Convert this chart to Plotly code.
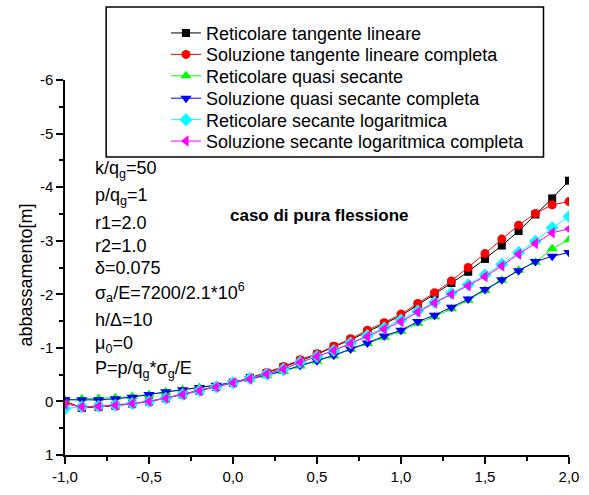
import plotly.graph_objects as go

x = [-1.0, -0.9, -0.8, -0.7, -0.6, -0.5, -0.4, -0.3, -0.2, -0.1, 0.0,
     0.1, 0.2, 0.3, 0.4, 0.5, 0.6, 0.7, 0.8, 0.9, 1.0,
     1.1, 1.2, 1.3, 1.4, 1.5, 1.6, 1.7, 1.8, 1.9, 2.0]

ret_tang = [0.0, 0.12, 0.1, 0.08, 0.04, 0.0, -0.06, -0.13, -0.2, -0.27, -0.35,
            -0.44, -0.53, -0.64, -0.76, -0.88, -1.02, -1.15, -1.3, -1.45, -1.6,
            -1.8, -2.0, -2.21, -2.42, -2.66, -2.91, -3.18, -3.49, -3.79, -4.12]
sol_tang = [0.0, 0.12, 0.1, 0.08, 0.04, 0.0, -0.06, -0.13, -0.2, -0.27, -0.35,
            -0.44, -0.54, -0.65, -0.78, -0.89, -1.03, -1.17, -1.33, -1.47, -1.63,
            -1.83, -2.03, -2.25, -2.5, -2.76, -3.03, -3.29, -3.51, -3.67, -3.73]
ret_quasi = [-0.03, -0.05, -0.06, -0.07, -0.09, -0.13, -0.18, -0.22, -0.26, -0.3, -0.35,
             -0.41, -0.48, -0.56, -0.66, -0.75, -0.85, -0.97, -1.08, -1.2, -1.31,
             -1.46, -1.58, -1.73, -1.89, -2.07, -2.26, -2.45, -2.6, -2.85, -3.02]
sol_quasi = [-0.03, -0.03, -0.03, -0.05, -0.08, -0.13, -0.18, -0.22, -0.26, -0.3, -0.35,
             -0.42, -0.49, -0.57, -0.67, -0.76, -0.86, -0.98, -1.09, -1.22, -1.33,
             -1.49, -1.61, -1.76, -1.91, -2.09, -2.27, -2.44, -2.61, -2.71, -2.78]
ret_log = [0.13, 0.1, 0.09, 0.07, 0.04, 0.0, -0.06, -0.13, -0.2, -0.27, -0.35,
           -0.43, -0.51, -0.6, -0.73, -0.84, -0.95, -1.09, -1.23, -1.37, -1.52,
           -1.69, -1.85, -2.02, -2.18, -2.36, -2.56, -2.78, -2.99, -3.24, -3.45]
sol_log = [0.05, 0.1, 0.09, 0.07, 0.04, 0.0, -0.06, -0.13, -0.2, -0.27, -0.35,
           -0.42, -0.51, -0.6, -0.73, -0.84, -0.95, -1.08, -1.21, -1.35, -1.49,
           -1.67, -1.84, -2.0, -2.16, -2.33, -2.53, -2.75, -2.95, -3.15, -3.22]

names = ["Reticolare tangente lineare",
         "Soluzione tangente lineare completa",
         "Reticolare quasi secante",
         "Soluzione quasi secante completa",
         "Reticolare secante logaritmica",
         "Soluzione secante logaritmica completa"]

x_tickvals = [-1.0, -0.5, 0.0, 0.5, 1.0, 1.5, 2.0]
x_ticktext = ["-1,0", "-0,5", "0,0", "0,5", "1,0", "1,5", "2,0"]
y_tickvals = [-6, -5, -4, -3, -2, -1, 0, 1]
y_ticktext = ["-6", "-5", "-4", "-3", "-2", "-1", "0", "1"]
y_title = "abbassamento[m]"

param_lines = ["k/q<sub>g</sub>=50", "p/q<sub>g</sub>=1", "r1=2.0", "r2=1.0",
               "δ=0.075", "σ<sub>a</sub>/E=7200/2.1*10<sup>6</sup>", "h/Δ=10",
               "μ<sub>0</sub>=0", "P=p/q<sub>g</sub>*σ<sub>g</sub>/E"]

series = [ret_tang, sol_tang, ret_quasi, sol_quasi, ret_log, sol_log]
colors = ["#000000", "#ff0000", "#00ff00", "#0000ff", "#00ffff", "#ff00ff"]
symbols = ["square", "circle", "triangle-up", "triangle-down", "diamond", "triangle-left"]
sizes = [8, 9, 10, 10, 10, 10]

FONT = "Liberation Sans"
W, H = 589, 495
ML, MR, MT, MB = 65, 10, 80, 30
PW, PH = W - ML - MR, H - MT - MB


def px_x(p):
    return (p - ML) / PW


def px_y(p):
    return 1 - (p - MT) / PH


legend_rows_px = [32, 54, 76, 99, 121, 143]
legend_ids = ["legend2", "legend3", "legend4", "legend5", "legend6", "legend7"]

fig = go.Figure()
for ys, c, s, sz, n, lid in zip(series, colors, symbols, sizes, names, legend_ids):
    fig.add_trace(go.Scatter(x=x, y=ys, mode="lines+markers", name=n, legend=lid,
                             line=dict(color=c, width=1),
                             marker=dict(symbol=s, size=sz, color=c)))

annotations = []
param_y = [172, 200, 227, 250, 273, 298, 326, 352, 377]
for t, py in zip(param_lines, param_y):
    annotations.append(dict(text=t, x=px_x(94), y=px_y(py), xref="paper", yref="paper",
                            xanchor="left", yanchor="middle", showarrow=False,
                            font=dict(size=18, color="black", family=FONT)))
annotations.append(dict(text="<b>caso di pura flessione</b>", x=px_x(325), y=px_y(219),
                        xref="paper", yref="paper", xanchor="center", yanchor="middle",
                        showarrow=False, font=dict(size=17, color="black", family=FONT)))
annotations.append(dict(text=y_title, x=px_x(25), y=px_y(280), xref="paper", yref="paper",
                        xanchor="center", yanchor="middle", textangle=-90, showarrow=False,
                        font=dict(size=18, color="black", family=FONT)))

legend_common = dict(xanchor="left", yanchor="middle", bgcolor="rgba(0,0,0,0)",
                     borderwidth=0, font=dict(size=18, family=FONT, color="black"),
                     itemsizing="trace")
legends = {}
for lid, py in zip(legend_ids, legend_rows_px):
    legends[lid] = dict(x=px_x(168), y=px_y(py), **legend_common)

fig.update_layout(
    width=W, height=H,
    margin=dict(l=ML, r=MR, t=MT, b=MB, pad=0),
    paper_bgcolor="white", plot_bgcolor="white",
    font=dict(family=FONT, color="black", size=15),
    showlegend=True,
    annotations=annotations,
    shapes=[dict(type="rect", xref="paper", yref="paper",
                 x0=px_x(107), x1=px_x(553), y0=px_y(159), y1=px_y(5),
                 line=dict(color="black", width=1.5), fillcolor="rgba(0,0,0,0)")],
    xaxis=dict(range=[-1.0, 2.0], tickvals=x_tickvals, ticktext=x_ticktext,
               showline=True, linecolor="black", linewidth=1.5, mirror=False,
               ticks="outside", ticklen=7, tickwidth=1.5, tickcolor="black",
               showgrid=False, zeroline=False, ticklabeloverflow="allow",
               tickfont=dict(size=15, family=FONT, color="black"),
               minor=dict(dtick=0.25, tick0=0, ticks="outside", ticklen=4,
                          tickwidth=1.5, tickcolor="black", showgrid=False)),
    yaxis=dict(range=[1, -6], tickvals=y_tickvals, ticktext=y_ticktext,
               showline=True, linecolor="black", linewidth=1.5, mirror=False,
               ticks="outside", ticklen=7, tickwidth=1.5, tickcolor="black",
               showgrid=False, zeroline=False,
               tickfont=dict(size=15, family=FONT, color="black"),
               minor=dict(dtick=0.5, tick0=0, ticks="outside", ticklen=4,
                          tickwidth=1.5, tickcolor="black", showgrid=False)),
)
fig.update_layout(**legends)

fig.write_html("out.html")
